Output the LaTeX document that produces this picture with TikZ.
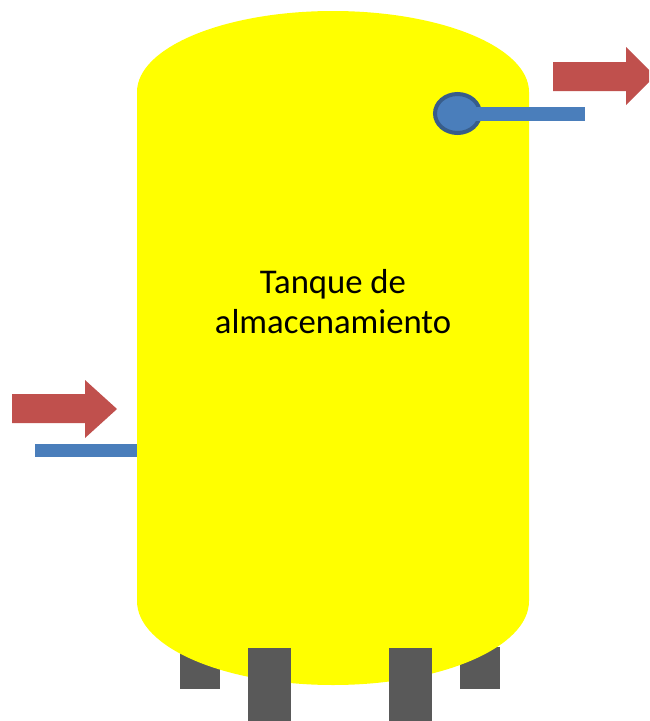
\documentclass[tikz,border=0pt]{standalone}
\usepackage{fontspec}
\setmainfont{Carlito}
\definecolor{tankyellow}{RGB}{255,255,0}
\definecolor{legdark}{RGB}{89,89,89}
\definecolor{pipeblue}{RGB}{74,126,187}
\definecolor{ringblue}{RGB}{56,93,138}
\definecolor{arrowred}{RGB}{192,80,77}
\tikzset{
  legshape/.style={fill=legdark,draw=none},
  pipeshape/.style={fill=pipeblue,draw=none},
  arrowshape/.style={fill=arrowred,draw=none},
  tankshape/.style={fill=tankyellow,draw=none},
  tanklabel/.style={align=center,font=\fontsize{34.7}{40}\selectfont,text=black,inner sep=0pt}
}
\begin{document}
\begin{tikzpicture}[x=1pt,y=-1pt]
\useasboundingbox (0,0) rectangle (649,721);
\clip (0,0) rectangle (649,721);
\fill[white] (0,0) rectangle (649,721);
% rear legs
\fill[legshape] (180,647) rectangle (220,689);
\fill[legshape] (460,647) rectangle (500,689);
% tank
\fill[tankshape] (137,92) arc[start angle=180,end angle=360,x radius=196,y radius=81]
  -- (529,601) arc[start angle=0,end angle=180,x radius=196,y radius=84] -- cycle;
% front legs
\fill[legshape] (248,648) rectangle (291,721);
\fill[legshape] (389,648) rectangle (432,721);
% outlet
\fill[pipeblue,draw=ringblue,line width=4pt] (457.5,113.5) ellipse[x radius=22.5,y radius=19.5];
\fill[pipeshape] (457,107) rectangle (585,121);
% inlet
\fill[pipeshape] (35,444) rectangle (137,457);
% arrows
\fill[arrowshape] (553,62) -- (626,62) -- (626,47) -- (655,76) -- (626,105) -- (626,91) -- (553,91) -- cycle;
\fill[arrowshape] (12,394) -- (85,394) -- (85,380) -- (117,409) -- (85,438) -- (85,423) -- (12,423) -- cycle;
\node[tanklabel] (label) at (333,302) {Tanque de\\almacenamiento};
\end{tikzpicture}
\end{document}
